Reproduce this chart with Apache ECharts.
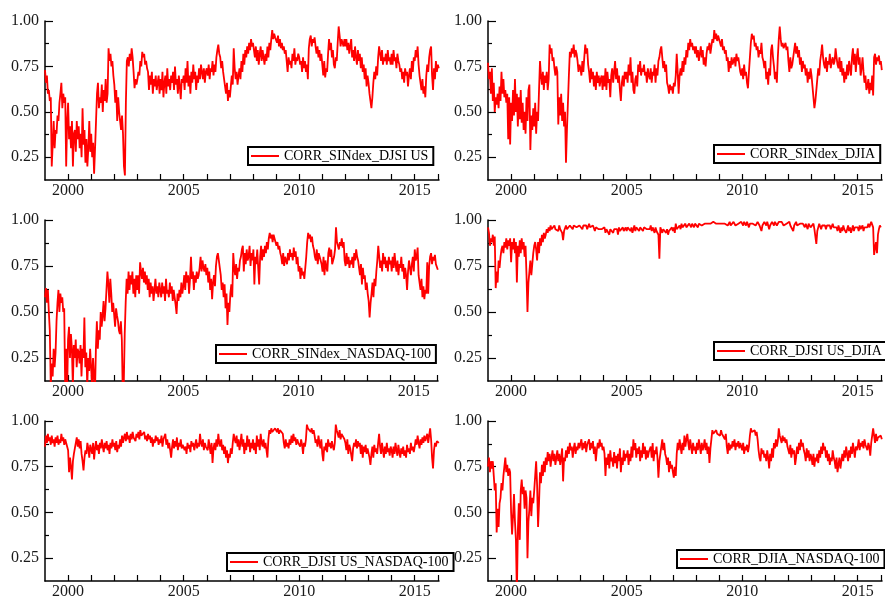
<!DOCTYPE html>
<html>
<head>
<meta charset="utf-8">
<script src="https://cdn.jsdelivr.net/npm/echarts@6/dist/echarts.min.js"></script>
<style>html,body{margin:0;padding:0;background:#fff}#c{width:885px;height:602px}</style>
</head>
<body>
<div id="c"></div>
<script>
// Time axis: semi-monthly observations starting 1999.0
const START_YEAR = 1999;
const PER_YEAR = 24;

const seriesNames = [
  'CORR_SINdex_DJSI US',
  'CORR_SINdex_DJIA',
  'CORR_SINdex_NASDAQ-100',
  'CORR_DJSI US_DJIA',
  'CORR_DJSI US_NASDAQ-100',
  'CORR_DJIA_NASDAQ-100'
];

const xTickYears = [2000,2001,2002,2003,2004,2005,2006,2007,2008,2009,2010,2011,2012,2013,2014,2015,2016];
const xLabelYears = [2000,2005,2010,2015];
const yLabelValues = [0.25,0.50,0.75,1.00];
const yMinorValues = [0.375,0.625,0.875];

const corrSINdexDJSI = [
.73,.66,.70,.60,.62,.56,.58,.20,.32,.45,.30,.40,.38,.48,.45,.55,.60,.66,.52,.60,.55,.58,.20,.45,
.55,.35,.42,.30,.45,.20,.38,.40,.28,.45,.35,.42,.30,.38,.25,.52,.32,.40,.22,.35,.20,.30,.45,.28,
.38,.25,.33,.16,.30,.45,.60,.66,.52,.58,.55,.65,.50,.62,.56,.68,.55,.60,.85,.78,.82,.75,.78,.70,
.65,.55,.62,.45,.58,.50,.45,.40,.48,.38,.20,.15,.55,.78,.80,.75,.82,.78,.85,.80,.72,.63,.68,.65,
.68,.72,.70,.78,.75,.83,.80,.82,.76,.78,.74,.72,.62,.70,.65,.72,.60,.68,.64,.70,.62,.66,.70,.60,
.68,.62,.72,.58,.66,.70,.60,.74,.64,.68,.62,.70,.66,.72,.62,.75,.65,.68,.60,.70,.64,.57,.68,.66,
.70,.62,.74,.66,.78,.64,.70,.60,.72,.66,.76,.68,.72,.62,.70,.66,.74,.68,.76,.72,.68,.74,.66,.72,
.74,.70,.76,.68,.74,.72,.78,.70,.76,.72,.80,.84,.87,.82,.80,.74,.78,.72,.68,.64,.60,.66,.56,.62,
.58,.64,.70,.65,.85,.74,.68,.72,.65,.70,.74,.68,.78,.72,.82,.76,.84,.80,.86,.82,.88,.84,.90,.86,
.88,.84,.80,.86,.78,.84,.76,.82,.86,.78,.84,.80,.76,.82,.78,.86,.80,.88,.84,.90,.95,.90,.93,.91,
.91,.88,.92,.86,.90,.85,.88,.84,.86,.82,.84,.78,.72,.80,.76,.78,.74,.82,.78,.85,.76,.80,.78,.82,
.80,.76,.78,.72,.80,.74,.78,.72,.76,.68,.85,.90,.92,.86,.90,.88,.91,.86,.82,.86,.80,.84,.78,.82,
.76,.70,.78,.69,.74,.72,.82,.90,.84,.88,.80,.84,.76,.74,.80,.78,.88,.97,.92,.86,.90,.88,.86,.90,
.86,.90,.84,.88,.82,.86,.90,.80,.84,.78,.86,.80,.76,.84,.78,.82,.74,.80,.72,.76,.68,.74,.64,.70,
.66,.60,.56,.52,.58,.66,.72,.68,.75,.70,.80,.86,.82,.78,.84,.76,.80,.78,.82,.76,.84,.78,.80,.76,
.82,.76,.84,.78,.80,.74,.82,.78,.76,.72,.74,.68,.72,.66,.74,.70,.72,.64,.70,.74,.68,.78,.72,.80,
.78,.84,.80,.86,.76,.70,.66,.62,.68,.60,.64,.58,.70,.76,.72,.80,.84,.86,.70,.62,.74,.68,.78,.72,
.76,.74
];

const corrSINdexDJIA = [
.77,.68,.72,.60,.74,.56,.66,.50,.58,.54,.60,.52,.64,.56,.72,.60,.68,.58,.62,.55,.60,.35,.58,.32,
.55,.45,.62,.48,.68,.50,.60,.42,.58,.46,.62,.44,.55,.40,.50,.38,.58,.45,.62,.65,.29,.48,.40,.52,
.42,.55,.38,.50,.45,.62,.78,.70,.65,.72,.62,.70,.66,.72,.62,.68,.87,.82,.85,.78,.80,.74,.70,.75,
.72,.43,.58,.48,.60,.45,.55,.42,.50,.22,.40,.55,.70,.83,.80,.85,.82,.87,.80,.84,.82,.78,.72,.76,
.74,.70,.78,.72,.80,.87,.82,.85,.76,.72,.66,.74,.68,.72,.64,.70,.62,.72,.66,.70,.64,.68,.70,.62,
.70,.64,.74,.62,.72,.66,.68,.58,.70,.74,.66,.72,.78,.68,.74,.66,.70,.62,.56,.66,.70,.64,.72,.68,
.72,.66,.76,.70,.80,.66,.72,.62,.60,.68,.70,.64,.76,.72,.78,.70,.74,.72,.76,.70,.72,.66,.74,.70,
.68,.74,.66,.72,.70,.76,.66,.74,.70,.78,.80,.84,.86,.80,.74,.78,.72,.76,.66,.64,.60,.65,.62,.64,
.60,.66,.64,.70,.82,.72,.60,.70,.74,.70,.78,.72,.80,.76,.84,.80,.88,.84,.90,.86,.88,.84,.86,.82,
.86,.80,.84,.78,.82,.86,.80,.84,.76,.80,.75,.82,.86,.84,.88,.82,.86,.90,.88,.95,.90,.93,.89,.92,
.90,.88,.86,.90,.84,.86,.82,.84,.78,.80,.72,.78,.74,.80,.76,.78,.80,.75,.82,.78,.80,.76,.72,.70,
.74,.68,.76,.70,.72,.66,.63,.72,.80,.88,.93,.90,.92,.86,.88,.84,.86,.80,.84,.82,.88,.80,.78,.74,
.78,.68,.72,.65,.74,.70,.84,.87,.80,.75,.68,.72,.66,.80,.90,.97,.90,.86,.88,.85,.86,.88,.84,.86,
.78,.72,.80,.74,.76,.80,.84,.88,.82,.86,.80,.84,.76,.80,.72,.78,.74,.76,.70,.74,.66,.72,.68,.74,
.70,.64,.58,.52,.56,.62,.68,.74,.70,.78,.82,.87,.80,.76,.74,.80,.72,.78,.76,.82,.74,.78,.80,.76,
.78,.85,.80,.76,.74,.80,.72,.78,.70,.74,.66,.72,.68,.76,.70,.78,.74,.70,.80,.85,.76,.82,.72,.80,
.85,.76,.80,.70,.74,.80,.72,.66,.70,.62,.64,.68,.60,.66,.62,.70,.59,.80,.82,.76,.80,.78,.81,.76,
.78,.73
];

const corrSINdexNASDAQ = [
.58,.63,.55,.62,.50,.40,.10,.22,.15,.30,.20,.28,.45,.55,.62,.50,.60,.55,.58,.50,.52,.10,.30,.05,
.35,.42,.25,.38,.30,.10,.32,.25,.35,.20,.30,.28,.22,.32,.15,.30,.25,.47,.20,.28,.10,.25,.18,.30,
.20,.10,.25,.15,.05,.30,.45,.30,.40,.35,.50,.42,.48,.56,.45,.52,.62,.72,.65,.55,.68,.60,.50,.55,
.55,.42,.52,.48,.45,.40,.38,.45,.35,.05,.10,.38,.55,.68,.60,.72,.62,.70,.65,.72,.60,.68,.58,.70,
.62,.70,.60,.77,.72,.68,.74,.66,.72,.65,.70,.62,.68,.58,.66,.60,.64,.56,.62,.68,.60,.64,.58,.66,
.62,.58,.66,.60,.64,.56,.68,.60,.62,.58,.66,.60,.64,.56,.62,.58,.54,.49,.60,.56,.62,.58,.66,.60,
.64,.70,.62,.72,.66,.70,.60,.68,.80,.68,.72,.62,.70,.66,.72,.68,.70,.74,.80,.72,.78,.74,.72,.76,
.70,.74,.66,.72,.62,.68,.57,.66,.70,.64,.75,.80,.82,.78,.74,.70,.62,.66,.58,.65,.52,.60,.43,.55,
.50,.60,.65,.58,.82,.74,.70,.76,.68,.74,.72,.78,.80,.84,.86,.72,.82,.76,.84,.78,.80,.86,.75,.82,
.78,.84,.65,.80,.76,.84,.74,.65,.80,.86,.78,.84,.80,.86,.82,.88,.84,.90,.93,.90,.92,.88,.92,.90,
.90,.86,.88,.84,.86,.82,.80,.76,.82,.75,.80,.78,.76,.82,.78,.84,.80,.82,.78,.85,.80,.83,.76,.80,
.72,.75,.68,.74,.70,.72,.68,.67,.80,.88,.93,.90,.92,.88,.91,.86,.84,.80,.78,.84,.76,.82,.80,.78,
.76,.72,.80,.70,.78,.74,.72,.82,.85,.80,.84,.76,.78,.80,.84,.96,.88,.86,.84,.88,.86,.90,.85,.88,
.78,.75,.82,.76,.80,.74,.78,.76,.80,.74,.82,.78,.84,.80,.78,.74,.70,.76,.65,.74,.68,.70,.62,.66,
.60,.56,.47,.55,.60,.66,.58,.68,.64,.72,.78,.86,.80,.74,.78,.72,.82,.76,.80,.74,.78,.72,.80,.76,
.78,.72,.80,.74,.82,.76,.72,.78,.70,.76,.74,.80,.72,.76,.68,.74,.70,.62,.72,.78,.74,.70,.76,.80,
.72,.84,.78,.80,.85,.70,.66,.62,.68,.58,.64,.57,.62,.60,.77,.60,.75,.80,.82,.76,.80,.78,.81,.76,
.75,.73
];

const corrDJSIDJIA = [
.96,.93,.86,.90,.88,.92,.86,.91,.63,.72,.66,.78,.74,.80,.84,.86,.82,.88,.85,.90,.84,.89,.86,.90,
.77,.88,.84,.90,.82,.88,.66,.86,.80,.89,.82,.90,.84,.88,.80,.86,.70,.50,.66,.72,.78,.70,.76,.82,
.86,.88,.84,.78,.88,.82,.90,.86,.92,.88,.93,.90,.92,.95,.93,.96,.94,.97,.95,.96,.94,.97,.95,.96,
.96,.94,.97,.95,.96,.93,.89,.94,.95,.97,.95,.96,.94,.97,.96,.98,.95,.97,.96,.98,.96,.97,.95,.97,
.96,.98,.95,.97,.96,.98,.97,.95,.96,.98,.96,.97,.95,.97,.96,.94,.96,.95,.97,.95,.96,.94,.95,.96,
.94,.96,.93,.95,.94,.96,.92,.95,.94,.96,.93,.95,.96,.94,.95,.92,.96,.94,.95,.93,.96,.94,.95,.96,
.94,.96,.95,.97,.94,.96,.93,.95,.97,.94,.96,.95,.97,.94,.96,.95,.97,.94,.96,.95,.97,.95,.96,.94,
.95,.97,.94,.96,.95,.93,.96,.94,.95,.92,.79,.96,.95,.93,.95,.94,.96,.93,.95,.92,.94,.95,.93,.96,
.94,.96,.93,.98,.95,.96,.94,.97,.95,.98,.96,.97,.95,.98,.96,.97,.95,.98,.97,.96,.98,.97,.96,.98,
.97,.98,.96,.98,.97,.99,.97,.98,.96,.98,.97,.99,.98,.97,.99,.98,.99,.97,.99,.98,.99,.98,.97,.99,
.98,.99,.97,.98,.99,.97,.98,.99,.98,.97,.98,.99,.97,.98,.97,.99,.98,.97,.98,.96,.98,.97,.98,.99,
.98,.97,.99,.98,.97,.99,.98,.96,.98,.99,.97,.98,.99,.98,.97,.98,.99,.98,.97,.96,.94,.97,.98,.99,
.98,.97,.99,.98,.95,.97,.98,.99,.98,.97,.99,.98,.97,.98,.99,.99,.98,.99,.98,.97,.98,.96,.98,.97,
.98,.99,.97,.98,.96,.94,.97,.98,.99,.97,.98,.96,.98,.97,.99,.98,.97,.96,.98,.97,.95,.98,.97,.96,
.97,.96,.98,.95,.96,.87,.94,.96,.98,.97,.95,.97,.98,.96,.97,.95,.97,.98,.96,.97,.95,.96,.98,.96,
.97,.95,.96,.94,.97,.95,.93,.96,.94,.97,.95,.96,.93,.95,.97,.94,.96,.93,.95,.97,.94,.96,.95,.97,
.96,.94,.97,.95,.96,.97,.94,.96,.95,.97,.96,.98,.96,.97,.99,.98,.96,.81,.85,.88,.82,.92,.95,.97,
.96,.97
];

const corrDJSINASDAQ = [
.86,.92,.88,.93,.89,.91,.87,.92,.88,.90,.86,.91,.88,.92,.87,.90,.88,.93,.89,.91,.87,.90,.88,.89,
.84,.72,.80,.75,.68,.78,.82,.85,.88,.91,.86,.90,.85,.89,.82,.78,.73,.80,.84,.82,.88,.85,.80,.87,
.86,.82,.88,.79,.85,.89,.84,.87,.82,.88,.85,.90,.86,.83,.88,.85,.89,.84,.87,.82,.88,.85,.90,.86,
.88,.84,.89,.83,.87,.85,.90,.86,.92,.88,.91,.93,.89,.94,.90,.92,.88,.93,.90,.94,.91,.92,.89,.93,
.91,.94,.90,.95,.92,.93,.91,.94,.90,.92,.89,.93,.90,.92,.88,.91,.86,.90,.88,.92,.89,.91,.87,.90,
.88,.92,.86,.90,.89,.93,.87,.90,.85,.88,.84,.80,.86,.90,.85,.89,.86,.91,.84,.88,.86,.90,.85,.87,
.88,.84,.86,.82,.88,.85,.87,.83,.89,.86,.88,.84,.87,.90,.85,.88,.86,.93,.88,.86,.90,.84,.88,.86,
.87,.84,.90,.86,.82,.88,.77,.85,.88,.84,.90,.86,.93,.88,.86,.90,.84,.87,.82,.86,.80,.84,.77,.82,
.80,.85,.82,.88,.93,.90,.88,.92,.86,.90,.84,.88,.93,.86,.90,.82,.88,.84,.92,.86,.90,.83,.88,.85,
.90,.84,.88,.82,.92,.86,.90,.84,.93,.88,.86,.90,.85,.88,.84,.80,.90,.95,.93,.96,.94,.95,.93,.96,
.95,.94,.96,.93,.95,.94,.96,.93,.88,.85,.90,.86,.88,.85,.90,.87,.92,.88,.93,.89,.91,.87,.90,.88,
.89,.86,.90,.87,.82,.88,.86,.90,.98,.96,.95,.97,.94,.96,.93,.95,.92,.88,.90,.86,.92,.88,.85,.90,
.82,.78,.86,.84,.88,.83,.90,.86,.88,.85,.89,.86,.84,.88,.98,.95,.93,.91,.95,.90,.93,.92,.94,.90,
.88,.84,.90,.82,.87,.85,.86,.78,.85,.88,.86,.90,.85,.89,.86,.88,.82,.87,.80,.86,.83,.87,.82,.85,
.84,.80,.76,.82,.86,.80,.87,.83,.85,.82,.88,.93,.86,.82,.88,.84,.80,.86,.82,.88,.83,.85,.81,.86,
.84,.80,.86,.82,.88,.84,.81,.87,.83,.80,.85,.82,.86,.81,.84,.80,.87,.83,.85,.82,.88,.84,.86,.83,
.86,.90,.87,.92,.88,.85,.90,.87,.91,.88,.92,.89,.90,.93,.88,.92,.96,.90,.80,.74,.84,.88,.86,.89,
.90,.88
];

const corrDJIANASDAQ = [
.75,.80,.72,.78,.74,.78,.70,.62,.66,.39,.52,.42,.55,.58,.66,.62,.70,.75,.80,.72,.76,.70,.74,.72,
.50,.38,.48,.60,.45,.35,.05,.40,.55,.35,.62,.68,.60,.64,.52,.62,.58,.25,.45,.52,.62,.48,.58,.55,
.62,.70,.78,.65,.42,.55,.72,.66,.76,.70,.78,.72,.80,.76,.83,.78,.82,.75,.80,.84,.78,.82,.76,.80,
.84,.78,.82,.76,.80,.85,.67,.80,.78,.84,.80,.86,.82,.88,.84,.86,.80,.85,.88,.82,.86,.84,.88,.85,
.86,.90,.84,.88,.85,.89,.83,.87,.86,.90,.84,.88,.85,.89,.82,.86,.78,.84,.88,.85,.90,.86,.88,.84,
.86,.82,.70,.80,.76,.82,.74,.84,.78,.80,.75,.83,.77,.81,.74,.82,.78,.85,.72,.80,.76,.84,.78,.82,
.80,.84,.76,.82,.78,.86,.80,.90,.84,.88,.80,.85,.82,.86,.78,.84,.80,.88,.82,.86,.79,.84,.80,.83,
.82,.86,.80,.88,.78,.84,.82,.86,.80,.69,.78,.82,.86,.90,.84,.88,.82,.80,.76,.80,.72,.78,.74,.76,
.72,.69,.75,.70,.82,.88,.84,.90,.86,.82,.88,.84,.92,.86,.90,.93,.88,.84,.90,.86,.82,.88,.84,.86,
.82,.88,.84,.90,.86,.82,.88,.84,.86,.90,.84,.88,.82,.86,.77,.85,.90,.95,.93,.94,.92,.95,.93,.94,
.94,.92,.95,.93,.94,.92,.90,.93,.86,.82,.88,.84,.87,.85,.89,.86,.90,.84,.88,.86,.89,.85,.88,.86,
.84,.88,.82,.86,.84,.87,.83,.86,.92,.96,.94,.95,.93,.95,.92,.94,.90,.84,.80,.78,.85,.82,.84,.80,
.82,.78,.84,.80,.74,.82,.78,.85,.80,.88,.85,.90,.86,.89,.96,.92,.90,.88,.92,.89,.91,.88,.90,.86,
.86,.82,.87,.80,.85,.82,.84,.76,.80,.86,.82,.88,.84,.90,.86,.88,.84,.82,.78,.85,.80,.84,.78,.82,
.80,.76,.82,.75,.80,.78,.82,.77,.84,.80,.86,.82,.88,.84,.86,.80,.84,.78,.82,.76,.80,.78,.84,.80,
.78,.74,.80,.72,.76,.80,.74,.78,.82,.78,.84,.80,.86,.82,.78,.84,.80,.86,.82,.88,.84,.80,.86,.84,
.86,.90,.84,.88,.86,.89,.85,.90,.87,.88,.84,.88,.86,.81,.88,.92,.96,.92,.88,.93,.89,.91,.90,.92,
.92,.90
];

const allValues = [corrSINdexDJSI, corrSINdexDJIA, corrSINdexNASDAQ, corrDJSIDJIA, corrDJSINASDAQ, corrDJIANASDAQ];

// Layout (pixels)
const grids = [
  {left:45,  top:21,  width:394, height:159},
  {left:488, top:21,  width:394, height:159},
  {left:45,  top:220, width:393, height:161},
  {left:488, top:220, width:394, height:161},
  {left:45,  top:421, width:394, height:160},
  {left:488, top:421, width:394, height:160}
];
const legendPos = [
  {left:248, top:147},
  {left:714, top:145},
  {left:216, top:345},
  {left:714, top:342},
  {left:227, top:553},
  {left:677, top:550}
];

const FONT = '"Liberation Serif","Times New Roman",serif';
const TXT = '#1a1a1a';

const option = {
  backgroundColor: '#fff',
  animation: false,
  grid: grids.map(g => Object.assign({containLabel:false}, g)),
  xAxis: grids.map((g, k) => ({
    type: 'value', gridIndex: k, min: 1999, max: 2016.05,
    axisLine: {show:true, lineStyle:{color:'#000', width:1.5}},
    axisTick: {show:true, inside:true, length:6, customValues: xTickYears, lineStyle:{color:'#000', width:1.2}},
    axisLabel: {customValues: xLabelYears, formatter: v => String(Math.round(v)), fontFamily: FONT, fontSize: 16, color: TXT, margin: 3},
    splitLine: {show:false}
  })),
  yAxis: [],
  legend: seriesNames.map((n, k) => ({
    data: [n], left: legendPos[k].left, top: legendPos[k].top, orient: 'horizontal',
    icon: 'rect', itemWidth: 28, itemHeight: 2, itemGap: 0, padding: [2,5,2,3],
    borderColor: '#000', borderWidth: 2, borderRadius: 0, backgroundColor: '#fff',
    selectedMode: false,
    itemStyle: {color: '#ff0000', borderWidth: 0},
    textStyle: {fontFamily: FONT, fontSize: 14, color: '#000', lineHeight: 14}
  })),
  series: seriesNames.map((n, k) => ({
    name: n, type: 'line', xAxisIndex: k, yAxisIndex: 2*k,
    symbol: 'none', showSymbol: false, clip: true,
    lineStyle: {color: '#ff0000', width: 1.8},
    itemStyle: {color: '#ff0000'},
    data: allValues[k].map((v, i) => [START_YEAR + i / PER_YEAR, v])
  }))
};

grids.forEach((g, k) => {
  option.yAxis.push({
    type: 'value', gridIndex: k, position: 'left', min: 0.125, max: 1,
    axisLine: {show:true, lineStyle:{color:'#000', width:1.5}},
    axisTick: {show:true, inside:true, length:8, customValues: yLabelValues, lineStyle:{color:'#000', width:1.2}},
    axisLabel: {customValues: yLabelValues, formatter: v => v.toFixed(2), fontFamily: FONT, fontSize: 16, color: TXT, margin: 6},
    splitLine: {show:false}
  });
  option.yAxis.push({
    type: 'value', gridIndex: k, position: 'left', min: 0.125, max: 1,
    axisLine: {show:false},
    axisTick: {show:true, inside:true, length:4, customValues: yMinorValues, lineStyle:{color:'#000', width:1.2}},
    axisLabel: {show:false},
    splitLine: {show:false}
  });
});

const chart = echarts.init(document.getElementById('c'), null, {renderer:'canvas'});
chart.setOption(option);
</script>
</body>
</html>
